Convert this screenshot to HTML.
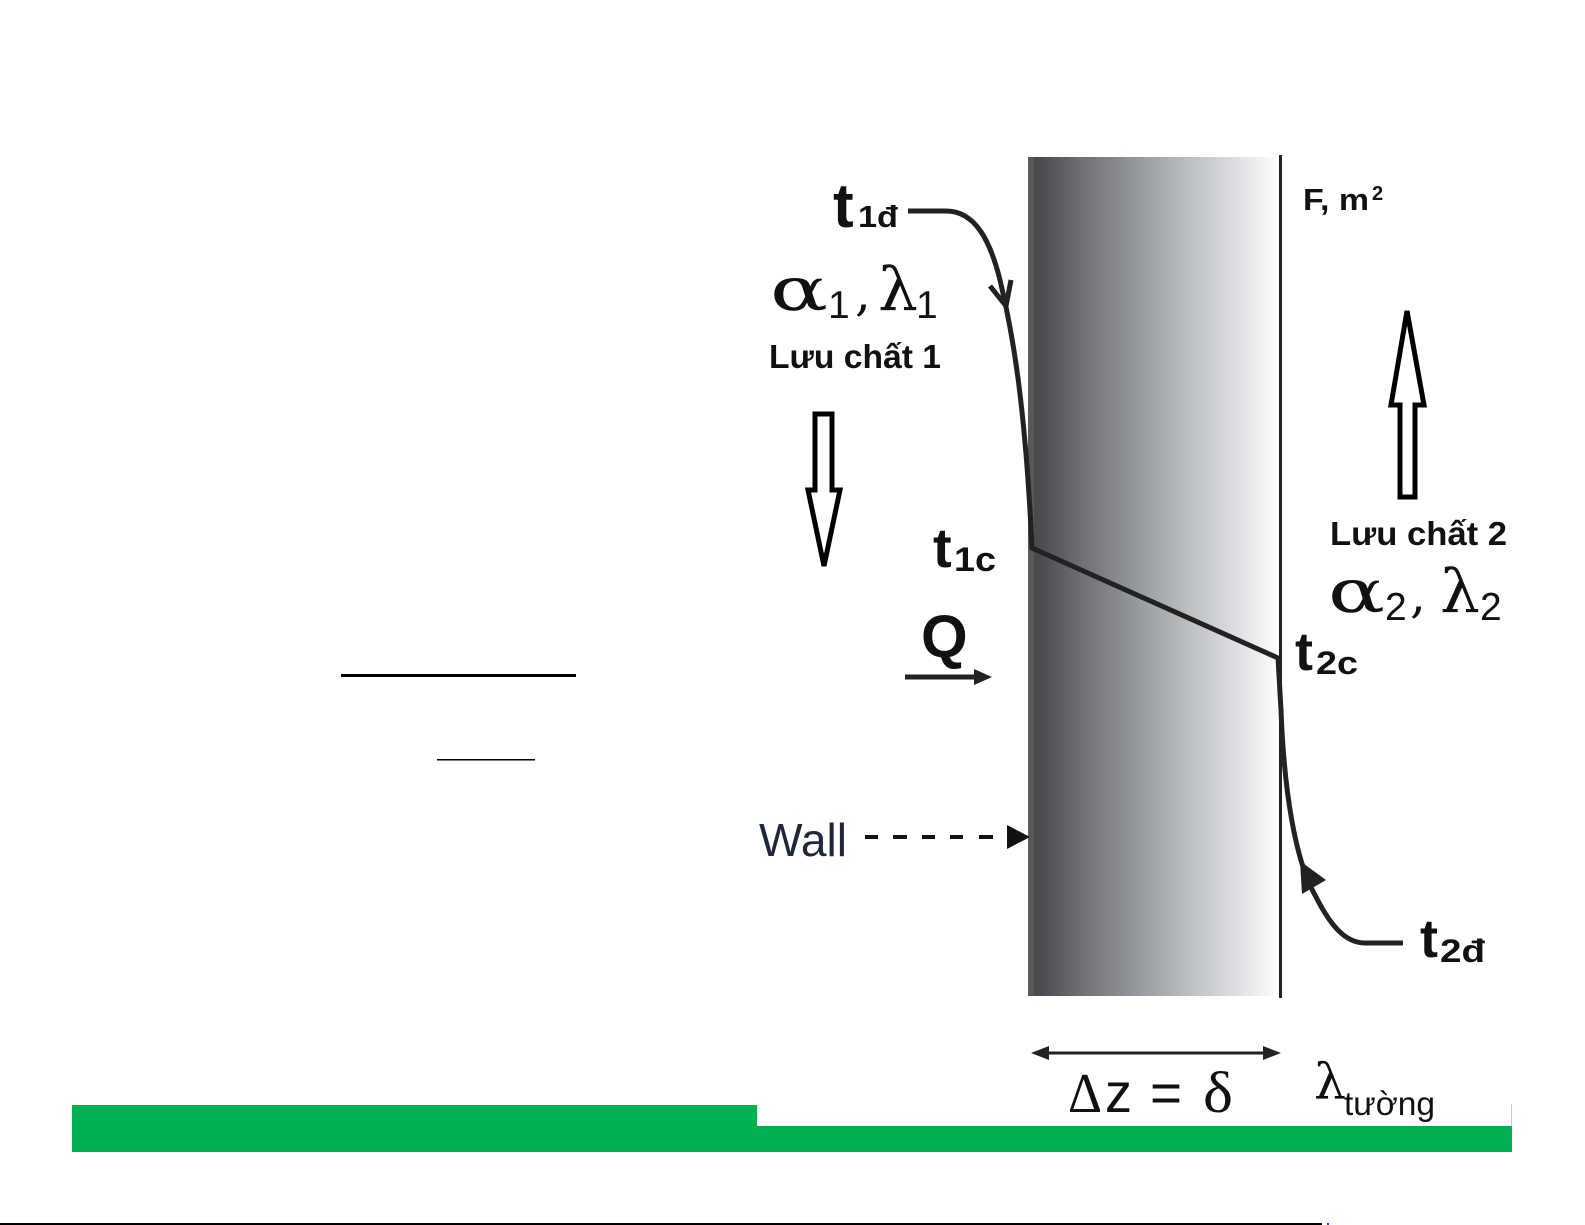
<!DOCTYPE html>
<html><head><meta charset="utf-8">
<style>
html,body{margin:0;padding:0;background:#fff;}
svg{display:block;}
.b{font-family:"Liberation Sans",Arial,sans-serif;font-weight:bold;fill:#111;}
.s{font-family:"DejaVu Serif","Liberation Serif",serif;fill:#111;}
.n{font-family:"Liberation Sans",Arial,sans-serif;fill:#111;}
</style></head>
<body>
<svg width="1585" height="1225" viewBox="0 0 1585 1225" xmlns="http://www.w3.org/2000/svg">
<defs>
<linearGradient id="wg" x1="0" x2="1" y1="0" y2="0">
<stop offset="0" stop-color="#4a494f"/>
<stop offset="0.05" stop-color="#4c4b51"/>
<stop offset="0.22" stop-color="#727075"/>
<stop offset="0.42" stop-color="#93969a"/>
<stop offset="0.62" stop-color="#b8bcbf"/>
<stop offset="0.82" stop-color="#dcdde1"/>
<stop offset="0.94" stop-color="#f3f3f5"/>
<stop offset="1" stop-color="#ffffff"/>
</linearGradient>
</defs>

<!-- wall -->
<rect x="1028" y="157" width="251" height="839" fill="url(#wg)"/>
<rect x="1028" y="157" width="6" height="839" fill="#58585c"/>
<rect x="1279" y="155" width="3" height="843" fill="#222"/>

<!-- temperature profile -->
<path d="M908 211 L946 211 C975 211 990 240 1000 280 C1012 330 1025 400 1032 548 L1278 658 L1281 710 C1284 790 1295 860 1315 895 C1330 925 1345 943 1365 943 L1403 943" fill="none" stroke="#222" stroke-width="5" stroke-linejoin="round"/>
<polyline points="990,286 1006,306 1011,280" fill="none" stroke="#222" stroke-width="5" stroke-linejoin="round"/>
<polygon points="1300,861 1302,894 1326,880" fill="#222"/>

<!-- hollow arrows -->
<polygon points="815,414 832,414 832,490 840,490 824,566 808,490 815,490" fill="#fff" stroke="#000" stroke-width="5" stroke-linejoin="miter"/>
<polygon points="1407,311 1424,405 1415,405 1415,497 1400,497 1400,405 1391,405" fill="#fff" stroke="#000" stroke-width="5" stroke-linejoin="miter"/>

<!-- Q arrow -->
<line x1="905" y1="677" x2="978" y2="677" stroke="#222" stroke-width="5"/>
<polygon points="974,669 992,677 974,685" fill="#222"/>

<!-- Wall dashed arrow -->
<g stroke="#111" stroke-width="4">
<line x1="865" y1="837" x2="878" y2="837"/>
<line x1="893" y1="837" x2="907" y2="837"/>
<line x1="922" y1="837" x2="935" y2="837"/>
<line x1="950" y1="837" x2="963" y2="837"/>
<line x1="979" y1="837" x2="993" y2="837"/>
</g>
<polygon points="1007,825 1030,837 1007,849" fill="#111"/>

<!-- double arrow -->
<line x1="1040" y1="1053" x2="1272" y2="1053" stroke="#222" stroke-width="3"/>
<polygon points="1031,1053 1049,1046 1049,1060" fill="#222"/>
<polygon points="1281,1053 1263,1046 1263,1060" fill="#222"/>

<!-- left labels -->
<text class="b" x="833" y="227" font-size="62">t</text>
<text class="b" x="858" y="227" font-size="31" textLength="40" lengthAdjust="spacingAndGlyphs">1đ</text>

<text class="s" x="770" y="310" font-size="60" textLength="58" lengthAdjust="spacingAndGlyphs">α</text>
<text class="n" x="828" y="318" font-size="39">1</text>
<text class="s" x="855" y="310" font-size="50">,</text>
<text class="s" x="878" y="310" font-size="60" textLength="40" lengthAdjust="spacingAndGlyphs">λ</text>
<text class="n" x="916" y="318" font-size="39">1</text>

<text class="b" x="769" y="368" font-size="33" textLength="172" lengthAdjust="spacingAndGlyphs">Lưu chất 1</text>

<text class="b" x="933" y="567" font-size="56">t</text>
<text class="b" x="954" y="571" font-size="34" textLength="42" lengthAdjust="spacingAndGlyphs">1c</text>

<text class="b" x="921" y="657" font-size="60">Q</text>

<text class="n" x="759" y="856" font-size="46" style="fill:#1e2838" textLength="88" lengthAdjust="spacingAndGlyphs">Wall</text>

<!-- right labels -->
<text class="b" x="1303" y="210" font-size="31" textLength="66" lengthAdjust="spacingAndGlyphs">F, m</text>
<text class="b" x="1372" y="200" font-size="20">2</text>

<text class="b" x="1330" y="545" font-size="33" textLength="177" lengthAdjust="spacingAndGlyphs">Lưu chất 2</text>

<text class="s" x="1328" y="612" font-size="60" textLength="57" lengthAdjust="spacingAndGlyphs">α</text>
<text class="n" x="1385" y="620" font-size="39">2</text>
<text class="s" x="1410" y="612" font-size="50">,</text>
<text class="s" x="1440" y="612" font-size="60" textLength="40" lengthAdjust="spacingAndGlyphs">λ</text>
<text class="n" x="1480" y="620" font-size="39">2</text>

<text class="b" x="1295" y="670" font-size="54">t</text>
<text class="b" x="1316" y="674" font-size="32" textLength="42" lengthAdjust="spacingAndGlyphs">2c</text>

<text class="b" x="1420" y="957" font-size="54">t</text>
<text class="b" x="1440" y="962" font-size="32" textLength="45" lengthAdjust="spacingAndGlyphs">2đ</text>

<!-- bottom labels -->
<text x="1068" y="1112" font-size="56" style="font-family:'Liberation Serif',serif;fill:#111" textLength="34" lengthAdjust="spacingAndGlyphs">Δ</text>
<text x="1105" y="1112" font-size="56" class="n" textLength="27" lengthAdjust="spacingAndGlyphs">z</text>
<text x="1150" y="1112" font-size="56" class="n" textLength="32" lengthAdjust="spacingAndGlyphs">=</text>
<text x="1203" y="1112" font-size="58" style="font-family:'Liberation Serif',serif;fill:#111" textLength="30" lengthAdjust="spacingAndGlyphs">δ</text>

<text class="s" x="1314" y="1099" font-size="50" textLength="32" lengthAdjust="spacingAndGlyphs">λ</text>
<text class="n" x="1344" y="1115" font-size="33" textLength="91" lengthAdjust="spacingAndGlyphs">tường</text>

<!-- left underlines -->
<rect x="341" y="674" width="235" height="3" fill="#000"/>
<rect x="437" y="759" width="98" height="1.5" fill="#000"/>

<!-- green bar -->
<rect x="72" y="1105" width="685" height="47" fill="#00b050"/>
<rect x="757" y="1126" width="755" height="26" fill="#00b050"/>
<rect x="1511" y="1104" width="1" height="22" fill="#a8dcbc"/>

<!-- bottom rule -->
<rect x="0" y="1223" width="1322" height="2" fill="#000"/>
<rect x="1327" y="1223" width="2" height="2" fill="#3344cc"/>
</svg>
</body></html>
